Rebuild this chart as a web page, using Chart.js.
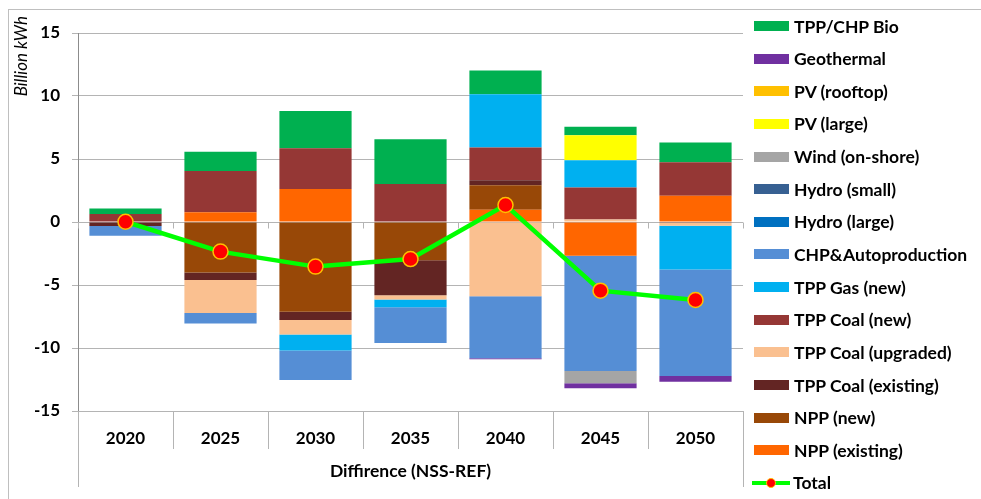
<!DOCTYPE html>
<html>
<head>
<meta charset="utf-8">
<script src="https://cdn.jsdelivr.net/npm/chart.js@4.4.1/dist/chart.umd.min.js"></script>
<style>
  html, body { margin: 0; padding: 0; background: #fff; overflow: hidden; }
  #wrap { position: relative; width: 981px; height: 499px; }
  #frame { position: absolute; left: 8px; top: 9px; width: 1000px; height: 520px;
           border-left: 1px solid #bfbfbf; border-top: 1px solid #bfbfbf; }
  #chart { position: absolute; left: 0; top: 0; }
  #legend { position: absolute; left: 752px; top: 9.7px; font: bold 17.5px Lato, sans-serif; color: #000; }
  #legend .row { height: 32.65px; display: flex; align-items: center; white-space: nowrap; }
  #legend .sw { width: 35px; height: 10px; margin: 0 5px 0 2px; }
  #legend .ln { position: relative; width: 38px; height: 10px; margin: 0 3px 0 0; }
  #legend .ln i { position: absolute; left: 0; right: 0; top: 3px; height: 4px; background: #00ff00; }
  #legend .ln b { position: absolute; left: 14px; top: 0; width: 8px; height: 8px; border-radius: 50%;
                  background: #ff0000; border: 1px solid #ffc000; }
</style>
</head>
<body>
<div id="wrap">
  <div id="frame"></div>
  <canvas id="chart" width="981" height="499"></canvas>
  <div id="legend"></div>
</div>
<script>
// values (billion kWh, NSS minus REF)
const years = ['2020', '2025', '2030', '2035', '2040', '2045', '2050'];

const nppExisting  = [0, 0.77, 2.62, 0, 0.98, -2.67, 2.09];
const nppNew       = [0, -4.0, -7.12, -3.04, 1.93, 0, 0];
const coalExisting = [-0.32, -0.61, -0.66, -2.78, 0.4, 0, -0.05];
const coalUpgraded = [0, -2.62, -1.14, -0.34, -5.9, 0.2, -0.25];
const coalNew      = [0.63, 3.28, 3.23, 3.02, 2.6, 2.54, 2.65];
const gasNew       = [0, 0, -1.27, -0.61, 4.23, 2.17, -3.46];
const chpAuto      = [-0.77, -0.82, -2.35, -2.83, -4.92, -9.15, -8.47];
const hydroLarge   = [0, 0, 0, 0, 0, 0, 0];
const hydroSmall   = [0, 0, 0, 0, 0, 0, 0];
const windOnshore  = [0, 0, 0, 0, 0, -0.98, 0];
const pvLarge      = [0, 0, 0, 0, 0, 1.98, 0];
const pvRooftop    = [0, 0, 0, 0, 0, 0, 0];
const geothermal   = [0, 0, 0, 0, -0.08, -0.4, -0.45];
const bioTpp       = [0.45, 1.53, 2.96, 3.54, 1.88, 0.66, 1.56];
const total        = [0.02, -2.35, -3.54, -2.94, 1.35, -5.45, -6.19];

const yTicks = [-15, -10, -5, 0, 5, 10, 15];
const yTitle = 'Billion kWh';

const series = [
  ['NPP (existing)', nppExisting, '#ff6600'],
  ['NPP (new)', nppNew, '#984807'],
  ['TPP Coal (existing)', coalExisting, '#632523'],
  ['TPP Coal (upgraded)', coalUpgraded, '#fac090'],
  ['TPP Coal (new)', coalNew, '#953735'],
  ['TPP Gas (new)', gasNew, '#00b0f0'],
  ['CHP&Autoproduction', chpAuto, '#558ed5'],
  ['Hydro (large)', hydroLarge, '#0070c0'],
  ['Hydro (small)', hydroSmall, '#376092'],
  ['Wind (on-shore)', windOnshore, '#a5a5a5'],
  ['PV (large)', pvLarge, '#ffff00'],
  ['PV (rooftop)', pvRooftop, '#ffc000'],
  ['Geothermal', geothermal, '#7030a0'],
  ['TPP/CHP Bio', bioTpp, '#00b050'],
];

const datasets = series.map(([label, data, color]) => ({
  type: 'bar',
  label,
  data,
  backgroundColor: color,
  borderWidth: 0,
  barPercentage: 0.76,
  categoryPercentage: 1,
  order: 1,
}));

datasets.push({
  type: 'line',
  label: 'Total',
  data: total,
  borderColor: '#00ff00',
  borderWidth: 4.5,
  pointRadius: 7.5,
  pointBackgroundColor: '#ff0000',
  pointBorderColor: '#ffc000',
  pointBorderWidth: 1.5,
  tension: 0,
  order: 0,
});

// legend, top to bottom like the reference
const legendEl = document.getElementById('legend');
series.slice().reverse().forEach(([label, , color]) => {
  const row = document.createElement('div');
  row.className = 'row';
  row.innerHTML = '<span class="sw" style="background:' + color + '"></span><span></span>';
  row.lastChild.textContent = label;
  legendEl.appendChild(row);
});
const totalRow = document.createElement('div');
totalRow.className = 'row';
totalRow.innerHTML = '<span class="ln"><i></i><b></b></span><span>Total</span>';
legendEl.appendChild(totalRow);

const gridGray = '#b4b4b4';
const boldFont = size => ({ family: 'Lato', size, weight: 'bold' });

// zero-line ticks, long outer separators under the category axis, y title sticking above the plot
const axisExtras = {
  id: 'axisExtras',
  beforeDatasetsDraw(chart) {
    const { ctx, chartArea, scales: { y } } = chart;
    const y0 = Math.round(y.getPixelForValue(0)) + 0.5;
    ctx.save();
    ctx.strokeStyle = gridGray;
    ctx.lineWidth = 1;
    ctx.beginPath();
    ctx.moveTo(chartArea.left, y0);
    ctx.lineTo(chartArea.right, y0);
    for (let i = 0; i <= years.length; i++) {
      const px = Math.round(chartArea.left + i * (chartArea.right - chartArea.left) / years.length) + 0.5;
      ctx.moveTo(px, y0);
      ctx.lineTo(px, y0 + 6);
    }
    ctx.stroke();
    ctx.restore();
  },
  afterDraw(chart) {
    const { ctx, chartArea } = chart;
    ctx.save();
    ctx.strokeStyle = gridGray;
    ctx.lineWidth = 1;
    ctx.beginPath();
    [chartArea.left, chartArea.right].forEach(px => {
      px = Math.round(px) + 0.5;
      ctx.moveTo(px, chartArea.bottom);
      ctx.lineTo(px, chartArea.bottom + 76);
    });
    ctx.stroke();

    ctx.translate(22, chartArea.top - 17);
    ctx.rotate(-Math.PI / 2);
    ctx.font = 'italic 17px Lato';
    ctx.fillStyle = '#000';
    ctx.textAlign = 'right';
    ctx.textBaseline = 'middle';
    ctx.fillText(yTitle, 0, 0);
    ctx.restore();
  }
};

new Chart(document.getElementById('chart'), {
  data: { labels: years, datasets },
  plugins: [axisExtras],
  options: {
    responsive: false,
    animation: false,
    devicePixelRatio: 1,
    layout: { padding: { left: 9, right: 238, top: 33, bottom: 13 } },
    plugins: {
      legend: { display: false },
      tooltip: { enabled: false },
    },
    scales: {
      x: {
        stacked: true,
        afterFit: axis => { axis.height = 75; },
        grid: { offset: true, drawOnChartArea: false, tickLength: 38, color: gridGray },
        border: { display: true, color: gridGray },
        ticks: { padding: -21, color: '#000', font: boldFont(17) },
        title: {
          display: true,
          text: 'Diffirence (NSS-REF)',
          color: '#000',
          font: boldFont(17.5),
          padding: { top: 15, bottom: 4 },
        },
      },
      y: {
        stacked: true,
        min: -15,
        max: 15,
        afterFit: axis => { axis.width = 69; },
        afterBuildTicks: axis => { axis.ticks = yTicks.map(v => ({ value: v })); },
        grid: { color: gridGray, tickLength: 6 },
        border: { display: true, color: '#8c8c8c' },
        ticks: { padding: 12, color: '#000', font: boldFont(17) },
      },
    },
  },
});
</script>
</body>
</html>
